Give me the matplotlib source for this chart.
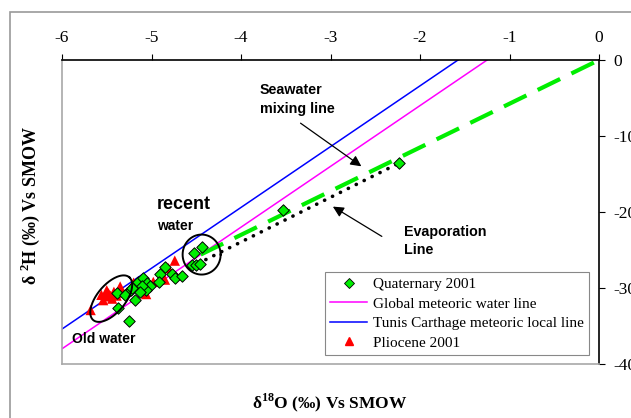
import numpy as np
import matplotlib
matplotlib.use("Agg")
import matplotlib.pyplot as plt
from matplotlib.patches import Rectangle
from matplotlib.lines import Line2D

plt.rcParams["font.family"] = ["Liberation Serif", "DejaVu Serif"]
plt.rcParams["mathtext.fontset"] = "custom"
plt.rcParams["mathtext.rm"] = "Liberation Serif"
plt.rcParams["mathtext.bf"] = "Liberation Serif:bold"

# --- data ---
quat_d18o = [-5.25, -5.37, -5.18, -5.38, -5.27, -5.23, -5.19, -5.15, -5.09, -5.05,
             -5.02, -5.06, -5.11, -5.13, -4.91, -4.85, -4.92, -4.77, -4.74, -4.66,
             -5.30, -5.22, -4.53, -4.44, -4.55, -4.50, -4.46, -3.53, -2.24]
quat_d2h = [-34.4, -32.6, -31.6, -30.6, -30.6, -30.3, -29.8, -29.2, -28.7, -29.4,
            -29.8, -30.2, -29.8, -30.5, -28.2, -27.2, -29.2, -28.2, -28.7, -28.4,
            -30.9, -30.0, -25.4, -24.6, -27.0, -27.0, -26.8, -19.8, -13.6]

plio_d18o = [-5.68, -5.54, -5.51, -5.48, -5.46, -5.42, -5.35, -5.33, -5.20, -5.13,
             -5.06, -4.98, -4.85, -4.81, -4.74, -5.56, -5.39, -5.44, -5.50]
plio_d2h = [-32.9, -31.6, -31.1, -30.7, -31.0, -30.5, -29.8, -30.6, -29.3, -29.6,
            -30.8, -29.2, -28.9, -27.4, -26.4, -30.9, -31.0, -31.4, -30.3]

gmwl_x = [-6.0, -1.25]          # global meteoric water line
gmwl_y = [-38.0, 0.0]
lmwl_x = [-6.0, -1.575]         # Tunis Carthage local line
lmwl_y = [-35.4, 0.0]
mix_x = [-4.45, 0.0]            # seawater mixing line
mix_y = [-25.6, 0.0]
evap_x = [-4.57, -2.24]         # evaporation line
evap_y = [-27.3, -13.6]

W, H = 631, 418
fig = plt.figure(figsize=(W / 100, H / 100), dpi=100)
fig.patches.append(Rectangle((9.5 / W, -0.1), 1.2, 1.1 - 12.5 / H,
                             transform=fig.transFigure, fill=False,
                             edgecolor="#9a9a9a", lw=1.2))
ax = fig.add_axes([62 / W, 1 - 364 / H, 537 / W, 304 / H])
ax.set_xlim(-6, 0)
ax.set_ylim(-40, 0)

ax.plot(gmwl_x, gmwl_y, color="#ff00ff", lw=1.1)
ax.plot(lmwl_x, lmwl_y, color="#0000ff", lw=1.1)
ax.plot(mix_x, mix_y, color="#00ee00", lw=3.0, dashes=(6, 3), solid_capstyle="butt")
ax.plot(evap_x, evap_y, color="black", lw=2.6, linestyle=(0, (0.05, 2.4)),
        dash_capstyle="round")

ax.scatter(quat_d18o, quat_d2h, marker="D", s=34, c="#00ee00", edgecolors="black",
           linewidths=0.7, zorder=4)
ax.scatter(plio_d18o, plio_d2h, marker="^", s=55, c="#ff0000", edgecolors="none",
           zorder=3)

# ellipses drawn in pixel space then mapped to data units
sx = 537 / 6.0
sy = 304 / 40.0
t = np.linspace(0, 2 * np.pi, 200)


def ellipse(cx, cy, a, b, ang):
    th = np.deg2rad(ang)
    px = a * np.cos(t) * np.cos(th) - b * np.sin(t) * np.sin(th)
    py = a * np.cos(t) * np.sin(th) + b * np.sin(t) * np.cos(th)
    ax.plot(cx + px / sx, cy + py / sy, color="black", lw=1.4, zorder=5)


ellipse(-5.45, -31.4, 28, 14, 50)
ellipse(-4.44, -25.6, 19, 20, 0)

bold = dict(family=["Liberation Sans", "DejaVu Sans"], fontweight="bold")
ax.text(-4.94, -19.0, "recent", fontsize=13, va="center", **bold)
ax.text(-4.94, -21.8, "water", fontsize=10, va="center", **bold)
ax.text(-5.89, -36.7, "Old water", fontsize=10, va="center", **bold)
ax.text(-3.79, -5.2, "Seawater\nmixing line", fontsize=10.3, va="center",
        linespacing=1.4, **bold)
ax.text(-2.18, -23.8, "Evaporation\nLine", fontsize=10.3, va="center",
        linespacing=1.4, **bold)
ax.annotate("", xy=(-2.63, -14.2), xytext=(-3.36, -8.1),
            arrowprops=dict(arrowstyle="-|>", color="black", lw=0.9,
                            mutation_scale=16))
ax.annotate("", xy=(-3.0, -19.1), xytext=(-2.40, -23.4),
            arrowprops=dict(arrowstyle="-|>", color="black", lw=0.9,
                            mutation_scale=16))

ax.xaxis.tick_top()
ax.yaxis.tick_right()
ax.set_xticks([-6, -5, -4, -3, -2, -1, 0])
ax.set_xticklabels(["-6", "-5", "-4", "-3", "-2", "-1", "0"])
ax.set_yticks([0, -10, -20, -30, -40])
ax.set_yticklabels(["0", "-10", "-20", "-30", "-40"])
ax.tick_params(direction="out", length=4, width=0.8, labelsize=12.5, pad=6)
ax.tick_params(axis="y", pad=6)
for side in ("top", "right"):
    ax.spines[side].set_color("black")
    ax.spines[side].set_linewidth(1.2)
for side in ("left", "bottom"):
    ax.spines[side].set_color("#a8a8a8")
    ax.spines[side].set_linewidth(1.2)

fig.text(330 / W, 1 - 403 / H, "δ$^{\\mathbf{18}}$O (‰) Vs SMOW", ha="center",
         va="center", fontsize=12.5, fontweight="bold")
fig.text(30 / W, 1 - 205 / H, "δ $^{\\mathbf{2}}$H (‰) Vs SMOW", ha="center",
         va="center", rotation=90, fontsize=13, fontweight="bold")

handles = [
    Line2D([], [], marker="D", ls="none", color="#00ee00", mec="black", mew=0.6, ms=5),
    Line2D([], [], color="#ff00ff", lw=1.1),
    Line2D([], [], color="#0000ff", lw=1.1),
    Line2D([], [], marker="^", ls="none", color="#ff0000", ms=6),
]
labels = ["Quaternary 2001", "Global meteoric water line",
          "Tunis Carthage meteoric local line", "Pliocene 2001"]
leg = ax.legend(handles, labels, loc="lower right", bbox_to_anchor=(0.982, 0.03),
                fontsize=11, frameon=True, fancybox=False, framealpha=1,
                edgecolor="#888888", borderpad=0.35, labelspacing=0.38,
                handlelength=2.4, handletextpad=0.4, borderaxespad=0)
leg.get_frame().set_linewidth(0.8)

fig.savefig("out.png", dpi=100)
